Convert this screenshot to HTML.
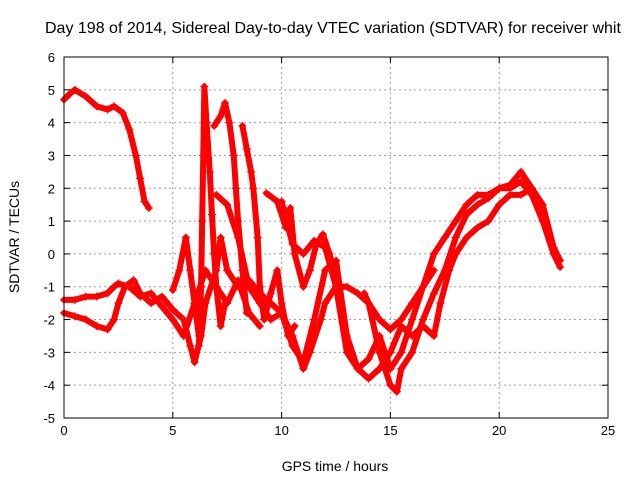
<!DOCTYPE html>
<html><head><meta charset="utf-8"><style>
body{margin:0;background:#fff;}
svg{display:block;font-family:"Liberation Sans",sans-serif;}
</style></head><body>
<svg id="chart" width="640" height="480" viewBox="0 0 640 480">
<rect width="640" height="480" fill="#fff"/>
<text x="45" y="33" font-size="16" fill="#000">Day 198 of 2014, Sidereal Day-to-day VTEC variation (SDTVAR) for receiver whit</text>
<g id="grid"></g>
<g id="axes"></g>
<g id="series"></g>
<rect x="64" y="57" width="544" height="361" fill="none" stroke="#000" stroke-width="1"/>
<text x="335" y="471" font-size="14" text-anchor="middle">GPS time / hours</text>
<text transform="translate(19,237) rotate(-90)" font-size="14" text-anchor="middle">SDTVAR / TECUs</text>
</svg>
<script>
const xTicks=[0,5,10,15,20,25];
const yTicks=[-5,-4,-3,-2,-1,0,1,2,3,4,5,6];
const trackA=[[0,4.7],[0.3,4.9],[0.5,5.0],[1,4.8],[1.5,4.5],[2,4.4],[2.3,4.5],[2.7,4.3],[3,3.8],[3.3,3.0],[3.5,2.3],[3.7,1.6],[3.9,1.4]];
const trackB=[[0,-1.4],[0.5,-1.4],[1,-1.3],[1.5,-1.3],[2,-1.2],[2.3,-1.0],[2.5,-0.9],[3,-1.0],[3.5,-1.3],[4,-1.2],[4.5,-1.6],[5,-2.0],[5.5,-2.5],[6,-1.5],[6.5,-0.5],[7,-1],[7.5,-1.5],[8,-0.8],[8.5,-1.8],[9,-2.2]];
const trackC=[[0,-1.8],[0.5,-1.9],[1,-2.0],[1.5,-2.2],[2,-2.3],[2.3,-2.0],[2.5,-1.5],[2.8,-1.0],[3.2,-0.8],[3.5,-1.2],[4,-1.5],[4.5,-1.3],[5,-1.7],[5.5,-2.0],[5.8,-2.8],[6,-3.3],[6.3,-2.5],[6.5,-1.5],[7,-0.5],[7.2,0.5],[7.5,-0.5],[8,-1.0],[8.5,-0.8],[9,-1.2],[9.5,-1.5],[10,-1.8],[10.5,-2.5],[11,-3.5],[11.3,-3.0],[11.8,-2.0],[12,-1.5],[12.5,-1.0],[13,-1.0],[13.5,-1.2],[14,-1.5],[14.5,-2.0],[15,-2.3],[15.5,-2.0],[16,-1.5],[16.5,-1.0],[17,-0.5]];
const trackD=[[10,1.6],[10.5,0.3],[11,0],[11.5,0.4],[12,0.2],[12.5,-1],[13,-3],[13.5,-3.5],[14,-3.2],[14.5,-2.5],[15,-3.5],[15.5,-3],[16,-2],[16.5,-1],[17,0],[17.5,0.5],[18,1.0],[18.5,1.5],[19,1.8],[19.5,1.8],[20,2.0],[20.5,2.0],[21,2.2],[21.5,1.8],[22,1.0],[22.5,0],[22.8,-0.4]];
const trackE=[[7,1.8],[7.5,1.5],[8,0.5],[8.5,-1],[9,-1.5],[9.5,-2],[10,-1.8],[10.5,-2.8],[11,-3.3],[11.5,-2],[12,-0.5],[12.5,-0.2],[13,-2.5],[13.5,-3.5],[14,-3.8],[14.5,-3.5],[15,-3],[15.5,-2.2],[16,-2.5],[16.5,-2.2],[17,-2.5],[17.3,-1.5],[17.7,-0.5],[18,0],[18.5,0.5],[19,0.8],[19.5,1.0],[20,1.5],[20.5,1.8],[21,1.8],[21.5,2],[22,1.2]];
const trackF=[[13.8,-1.2],[14,-1.5],[14.5,-3],[15,-4.0],[15.3,-4.2],[15.5,-3.5],[16,-3.0],[16.5,-2.0],[17,-1.2],[17.5,-0.5],[18,0.5],[18.5,1.2],[19,1.5],[19.5,1.7],[20,2.0],[20.5,2.1],[21,2.5],[21.5,2.0],[22,1.5],[22.5,0.2],[22.8,-0.2]];
const trackG=[[5,-1.1],[5.3,-0.5],[5.6,0.5],[5.8,-0.5],[6,-1.5],[6.2,-2.5],[6.4,-1.5]];
const trackH=[[6.2,-2.8],[6.3,-1],[6.35,1],[6.4,3],[6.45,5.1],[6.55,4],[6.7,2.5],[6.8,1.2],[6.9,0],[7.0,-1],[7.2,-2.2],[7.4,-1.5]];
const trackI=[[6.9,3.9],[7.2,4.2],[7.4,4.6],[7.6,4],[7.8,3],[7.9,2],[8.0,1],[8.2,-0.5],[8.4,-1.8]];
const trackJ=[[8.2,3.9],[8.4,3.2],[8.6,2.5],[8.7,2],[8.9,0.5],[9.0,-1],[9.2,-2],[9.5,-1.2],[9.8,-0.5],[10.0,-1.5],[10.3,-2.5],[10.6,-2.2]];
const trackK=[[9.3,1.85],[9.8,1.6],[10.2,0.8],[10.4,1.4],[10.6,0],[11,-1],[11.3,-0.5],[11.6,0.3],[11.9,0.6],[12.2,0],[12.6,-1],[13.0,-2.5]];
const tracks=[trackA,trackB,trackC,trackD,trackE,trackF,trackG,trackH,trackI,trackJ,trackK];
const NS="http://www.w3.org/2000/svg";
const X0=64,X1=608,Y0=418,Y1=57;
function sx(v){return X0+(v-0)/(25-0)*(X1-X0);}
function sy(v){return Y0-(v+5)/(6+5)*(Y0-Y1);}
function mk(t,a,p){const e=document.createElementNS(NS,t);for(const k in a)e.setAttribute(k,a[k]);p.appendChild(e);return e;}
const grid=document.getElementById('grid'),axes=document.getElementById('axes'),ser=document.getElementById('series');
xTicks.forEach(v=>{
  const x=sx(v);
  if(v>0&&v<25){const l=mk('line',{x1:x,x2:x,y1:Y1,y2:Y0,stroke:'#a0a0a0','stroke-dasharray':'2,3'},grid);
  
  }
  mk('line',{x1:x,x2:x,y1:Y0,y2:Y0-6,stroke:'#000'},axes);
  mk('line',{x1:x,x2:x,y1:Y1,y2:Y1+6,stroke:'#000'},axes);
  const t=mk('text',{x:x,y:Y0+17,'font-size':13,'text-anchor':'middle'},axes);t.textContent=v;
  
  
});
yTicks.forEach(v=>{
  const y=sy(v);
  if(v>-5&&v<6){const l=mk('line',{x1:X0,x2:X1,y1:y,y2:y,stroke:'#a0a0a0','stroke-dasharray':'2,3'},grid);
  
  }
  mk('line',{x1:X0,x2:X0+6,y1:y,y2:y,stroke:'#000'},axes);
  mk('line',{x1:X1,x2:X1-6,y1:y,y2:y,stroke:'#000'},axes);
  const t=mk('text',{x:X0-9,y:y+5,'font-size':13,'text-anchor':'end'},axes);t.textContent=v;
  
  
});
tracks.forEach((tr)=>{
  const g=mk('g',{},ser);
  
  
  mk('polyline',{points:tr.map(p=>sx(p[0])+','+sy(p[1])).join(' '),fill:'none',stroke:'#f00','stroke-width':6,'stroke-linejoin':'round','stroke-linecap':'round'},g);
  tr.forEach(p=>{
    const x=sx(p[0]),y=sy(p[1]);
    const m=mk('path',{d:`M${x-4},${y}h8M${x},${y-4}v8`,stroke:'#f00','stroke-width':1.2},g);
    
    
  });
});
</script>
</body></html>
